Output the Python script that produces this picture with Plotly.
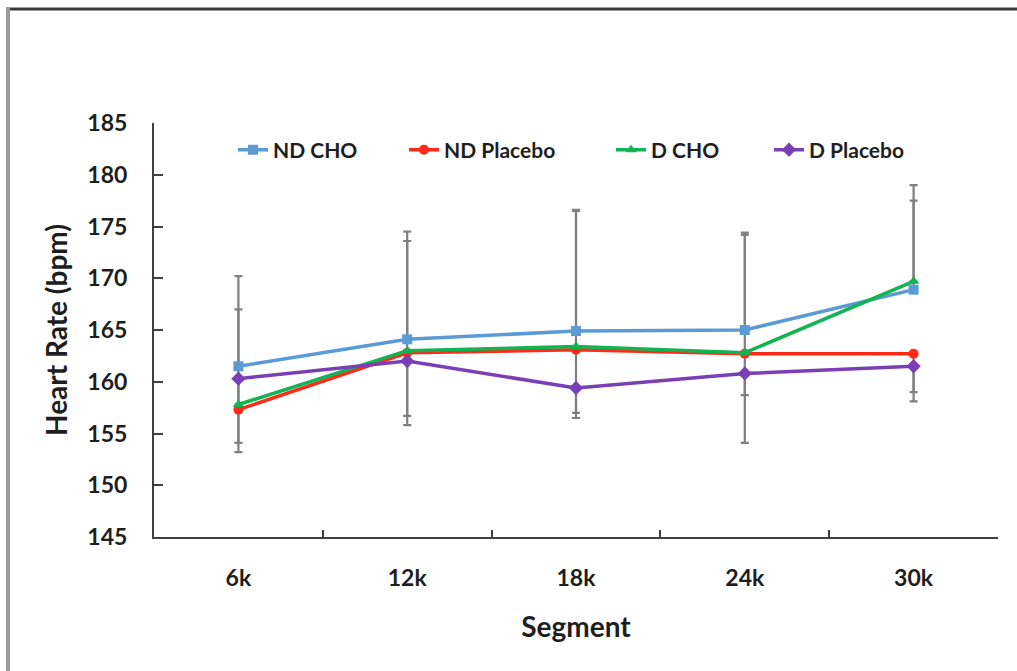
import plotly.graph_objects as go

segments = ["6k", "12k", "18k", "24k", "30k"]

nd_cho = [161.5, 164.1, 164.9, 165.0, 168.9]
nd_placebo = [157.3, 162.8, 163.1, 162.7, 162.7]
d_cho = [157.8, 163.0, 163.4, 162.8, 169.7]
d_placebo = [160.3, 162.0, 159.4, 160.8, 161.5]

# error bar magnitudes (upper for CHO, lower for placebo, as shown)
nd_cho_err_up = [8.7, 10.4, 11.7, 9.4, 8.6]
d_cho_err_up = [9.2, 10.6, 13.1, 11.4, 9.3]
nd_placebo_err_down = [4.1, 7.0, 6.6, 8.6, 4.6]
d_placebo_err_down = [6.2, 5.3, 2.4, 2.1, 2.5]

names = ["ND CHO", "ND Placebo", "D CHO", "D Placebo"]
colors = ["#5B9BD5", "#FF2A17", "#12B353", "#7B3FB5"]
symbols = ["square", "circle", "triangle-up", "diamond"]
series = [nd_cho, nd_placebo, d_cho, d_placebo]

W, H = 1017, 671
L, R, T, B = 154, 19, 123, 134
pw, ph = W - L - R, H - T - B


def px_x(p):
    return (p - L) / pw


def px_y(p):
    return (H - B - p) / ph


FONT = "Lato"
EB = "#7F7F7F"
TXT = "#1E1E1E"

fig = go.Figure()

err_specs = [
    (nd_cho, nd_cho_err_up, None),
    (d_cho, d_cho_err_up, None),
    (nd_placebo, None, nd_placebo_err_down),
    (d_placebo, None, d_placebo_err_down),
]
for vals, up, down in err_specs:
    zeros = [0] * len(vals)
    fig.add_trace(go.Scatter(
        x=segments, y=vals, mode="markers",
        marker=dict(size=1, color="rgba(0,0,0,0)"),
        showlegend=False, hoverinfo="skip",
        error_y=dict(type="data", symmetric=False,
                     array=up if up is not None else zeros,
                     arrayminus=down if down is not None else zeros,
                     color=EB, thickness=2.2, width=4),
    ))

legend_text_x = [275, 446, 653, 811]
for i, (nm, col, sym, vals) in enumerate(zip(names, colors, symbols, series)):
    lg = "legend" if i == 0 else f"legend{i+1}"
    fig.add_trace(go.Scatter(
        x=segments, y=vals, name=nm, mode="lines+markers",
        line=dict(color=col, width=3.5),
        marker=dict(color=col, symbol=sym, size=10 if sym != "diamond" else 11),
        legend=lg,
    ))

legend_common = dict(
    orientation="h", yanchor="middle", xanchor="left",
    font=dict(family=FONT, size=21, color=TXT, weight="bold"),
    bgcolor="rgba(0,0,0,0)", borderwidth=0,
)
layout_legends = {}
for i, tx in enumerate(legend_text_x):
    key = "legend" if i == 0 else f"legend{i+1}"
    layout_legends[key] = dict(legend_common, x=px_x(tx - 42), y=px_y(150))

fig.update_layout(
    width=W, height=H,
    margin=dict(l=L, r=R, t=T, b=B),
    paper_bgcolor="white", plot_bgcolor="white",
    font=dict(family=FONT, color=TXT),
    showlegend=True,
    **layout_legends,
    xaxis=dict(
        type="category", range=[-0.5, 4.5],
        showline=True, linecolor="#404040", linewidth=2,
        ticks="inside", ticklen=7, tickwidth=2, tickcolor="#404040",
        tickson="boundaries", showgrid=False, zeroline=False,
        tickfont=dict(family=FONT, size=23, color=TXT, weight="bold"),
        ticklabelstandoff=19,
        title=dict(text="<b>Segment</b>", font=dict(family=FONT, size=28, color=TXT), standoff=28),
    ),
    yaxis=dict(
        range=[145, 185], dtick=5, tick0=145,
        showline=True, linecolor="#404040", linewidth=2,
        ticks="inside", ticklen=9, tickwidth=2, tickcolor="#404040",
        showgrid=False, zeroline=False,
        tickfont=dict(family=FONT, size=23, color=TXT, weight="bold"),
        ticklabelstandoff=20,
        title=dict(text="<b>Heart Rate (bpm)</b>", font=dict(family=FONT, size=28, color=TXT), standoff=12),
    ),
    shapes=[
        dict(type="line", xref="paper", yref="paper",
             x0=px_x(6), x1=px_x(W + 5), y0=px_y(9), y1=px_y(9),
             line=dict(color="#3A3A3A", width=3)),
        dict(type="line", xref="paper", yref="paper",
             x0=px_x(8), x1=px_x(8), y0=px_y(8), y1=px_y(H + 5),
             line=dict(color="#9A9A9A", width=4)),
    ],
)

fig.write_html("out.html")
